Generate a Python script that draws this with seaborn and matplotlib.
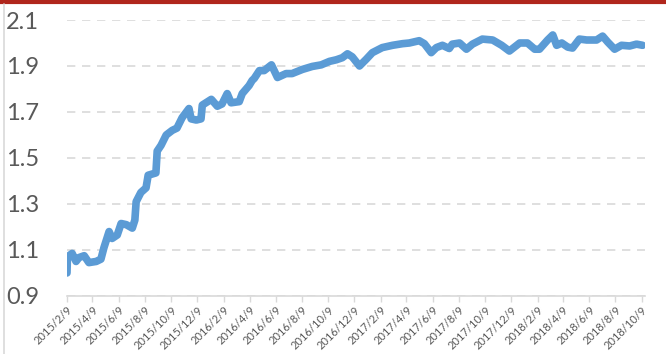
import pandas as pd
import seaborn as sns
import matplotlib.pyplot as plt
import matplotlib.dates as mdates
from matplotlib.lines import Line2D

# values
dates = [
    "2015-02-09", "2015-02-10", "2015-02-21", "2015-03-02", "2015-03-09",
    "2015-03-21", "2015-04-01", "2015-04-18", "2015-04-29", "2015-05-06",
    "2015-05-18", "2015-05-25", "2015-06-06", "2015-06-15", "2015-06-27",
    "2015-07-11", "2015-07-17", "2015-07-20", "2015-07-31", "2015-08-12",
    "2015-08-17", "2015-09-04", "2015-09-07", "2015-09-16", "2015-09-28",
    "2015-10-12", "2015-10-23", "2015-11-04", "2015-11-20", "2015-11-25",
    "2015-12-07", "2015-12-18", "2015-12-21", "2016-01-11", "2016-01-25",
    "2016-02-05", "2016-02-17", "2016-02-26", "2016-03-16", "2016-03-23",
    "2016-04-08", "2016-04-15", "2016-04-20", "2016-05-02", "2016-05-13",
    "2016-05-30", "2016-06-13", "2016-07-03", "2016-07-17", "2016-08-10",
    "2016-09-02", "2016-09-23", "2016-10-12", "2016-10-28", "2016-11-11",
    "2016-11-23", "2016-12-04", "2016-12-21", "2017-01-06", "2017-01-20",
    "2017-02-12", "2017-03-08", "2017-03-31", "2017-04-16", "2017-05-09",
    "2017-05-21", "2017-06-06", "2017-06-18", "2017-07-02", "2017-07-18",
    "2017-07-25", "2017-08-11", "2017-08-27", "2017-09-10", "2017-10-03",
    "2017-10-27", "2017-11-17", "2017-12-05", "2017-12-29", "2018-01-16",
    "2018-02-02", "2018-02-13", "2018-03-04", "2018-03-16", "2018-03-25",
    "2018-04-06", "2018-04-20", "2018-05-01", "2018-05-17", "2018-06-03",
    "2018-06-26", "2018-07-10", "2018-07-22", "2018-08-07", "2018-08-23",
    "2018-09-11", "2018-09-27", "2018-10-11",
]
values = [
    1.00, 1.07, 1.085, 1.05, 1.067,
    1.075, 1.045, 1.05, 1.06, 1.11,
    1.18, 1.15, 1.165, 1.215, 1.21,
    1.195, 1.23, 1.31, 1.35, 1.37,
    1.425, 1.435, 1.53, 1.555, 1.60,
    1.62, 1.63, 1.675, 1.715, 1.67,
    1.665, 1.67, 1.73, 1.755, 1.725,
    1.735, 1.78, 1.74, 1.745, 1.78,
    1.815, 1.837, 1.846, 1.88, 1.88,
    1.905, 1.85, 1.867, 1.867, 1.885,
    1.898, 1.905, 1.92, 1.927, 1.936,
    1.953, 1.94, 1.90, 1.93, 1.958,
    1.98, 1.99, 1.997, 2.0, 2.01,
    1.997, 1.958, 1.98, 1.99, 1.976,
    1.995, 2.0, 1.973, 1.995, 2.017,
    2.013, 1.99, 1.965, 2.0, 2.0,
    1.973, 1.973, 2.013, 2.035, 1.99,
    2.0, 1.982, 1.978, 2.017, 2.013,
    2.013, 2.03, 2.004, 1.973, 1.99,
    1.987, 1.995, 1.99,
]
y_ticks = [0.9, 1.1, 1.3, 1.5, 1.7, 1.9, 2.1]

df = pd.DataFrame({"date": pd.to_datetime(dates), "value": values})

sns.set_style("white")
plt.rcParams["font.family"] = ["Lato", "DejaVu Sans"]

fig = plt.figure(figsize=(6.66, 3.54), dpi=100)
ax = fig.add_axes([0.1006, 0.164, 0.8674, 0.7795])

sns.lineplot(data=df, x="date", y="value", ax=ax, color="#5B9BD5",
             linewidth=5.5, solid_capstyle="round", solid_joinstyle="round")

ax.set_ylim(0.9, 2.1)
ax.set_yticks(y_ticks)
ax.set_yticklabels([f"{t:.1f}" for t in y_ticks])
ax.set_xlim(pd.Timestamp("2015-02-09"), pd.Timestamp("2018-10-16"))
ax.xaxis.set_major_locator(mdates.MonthLocator(bymonth=range(2, 13, 2), bymonthday=9))
ax.xaxis.set_major_formatter(
    plt.FuncFormatter(lambda v, p: (lambda d: f"{d.year}/{d.month}/{d.day}")(mdates.num2date(v))))

ax.set_xlabel("")
ax.set_ylabel("")
ax.grid(axis="y", color="#D9D9D9", linestyle=(0, (5, 4)), linewidth=1.2)
ax.set_axisbelow(True)

for s in ["top", "right", "left"]:
    ax.spines[s].set_visible(False)
ax.spines["bottom"].set_color("#D9D9D9")
ax.spines["bottom"].set_linewidth(1.2)

ax.tick_params(axis="y", labelsize=17, labelcolor="#595959", length=0, pad=20)
ax.tick_params(axis="x", labelsize=8, labelcolor="#595959", length=4,
               color="#D9D9D9", width=1, direction="out", bottom=True, pad=2)
for lbl in ax.get_xticklabels():
    lbl.set_rotation(45)
    lbl.set_ha("right")
    lbl.set_rotation_mode("anchor")

# frame of the original screenshot
fig.add_artist(Line2D([0, 1], [0.995, 0.995], color="#B0261C", linewidth=3,
                      transform=fig.transFigure))
fig.add_artist(Line2D([0.006, 0.006], [0, 0.99], color="#D9D9D9", linewidth=1.2,
                      transform=fig.transFigure))

fig.savefig("out.png", dpi=100)
